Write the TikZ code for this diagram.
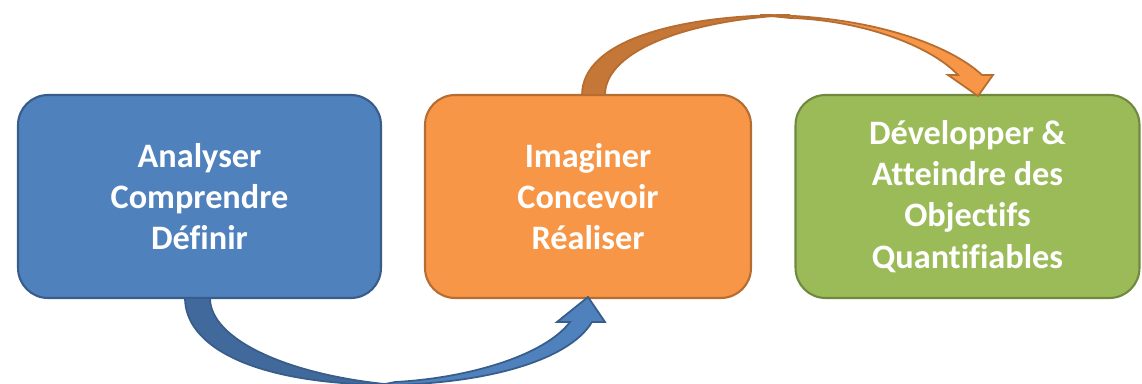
\documentclass[tikz,border=0pt]{standalone}
\usepackage{fontspec}
\setmainfont{Carlito}[Ligatures=NoCommon]
\definecolor{bfill}{HTML}{4F81BD}
\definecolor{bline}{HTML}{385D8A}
\definecolor{bdark}{HTML}{41699C}
\definecolor{ofill}{HTML}{F79646}
\definecolor{oline}{HTML}{B66D31}
\definecolor{odark}{HTML}{C47737}
\definecolor{gfill}{HTML}{9BBB59}
\definecolor{gline}{HTML}{71893F}
\tikzset{
  stepbox/.style={rounded corners=0.6cm, line width=1.2pt, minimum height=4.06cm,
    align=center, text=white, font=\bfseries\fontsize{19.5}{23.4}\selectfont},
  arrowline/.style={line width=1pt, line join=miter}
}
\begin{document}
\begin{tikzpicture}[x=0.02cm,y=-0.02cm]
\useasboundingbox (0,0) rectangle (1142,384);
% boxes
\node[stepbox, draw=bline, fill=bfill, minimum width=7.26cm] (b1) at (199.5,196.5)
  {Analyser\\Comprendre\\Définir};
\node[stepbox, draw=oline, fill=ofill, minimum width=6.52cm] (b2) at (588,196.5)
  {Imaginer\\Concevoir\\Réaliser};
\node[stepbox, draw=gline, fill=gfill, minimum width=6.88cm] (b3) at (967.5,196.5)
  {Développer \&\\Atteindre des\\Objectifs\\Quantifiables};
% blue curved arrow (below)
\fill[bdark, draw=bline, arrowline]
  (185,298) .. controls (185,345) and (250,385) .. (395,385)
  .. controls (290,376) and (210,340) .. (210,298) -- cycle;
\fill[bfill, draw=bline, arrowline]
  (380,385) .. controls (480,385) and (568,362) .. (592,322)
  -- (605,322) -- (588,297) -- (557,322) -- (570,322)
  .. controls (545,355) and (470,378) .. (395,382) -- cycle;
% orange curved arrow (above)
\fill[odark, draw=oline, arrowline]
  (582,95) .. controls (582,40) and (680,15) .. (790,15)
  .. controls (690,20) and (605,50) .. (605,95) -- cycle;
\fill[ofill, draw=oline, arrowline]
  (760,15) .. controls (870,15) and (950,45) .. (982,75)
  -- (993,75) -- (978,96) -- (948,75) -- (958,75)
  .. controls (930,45) and (860,20) .. (790,18) -- cycle;
\end{tikzpicture}
\end{document}
